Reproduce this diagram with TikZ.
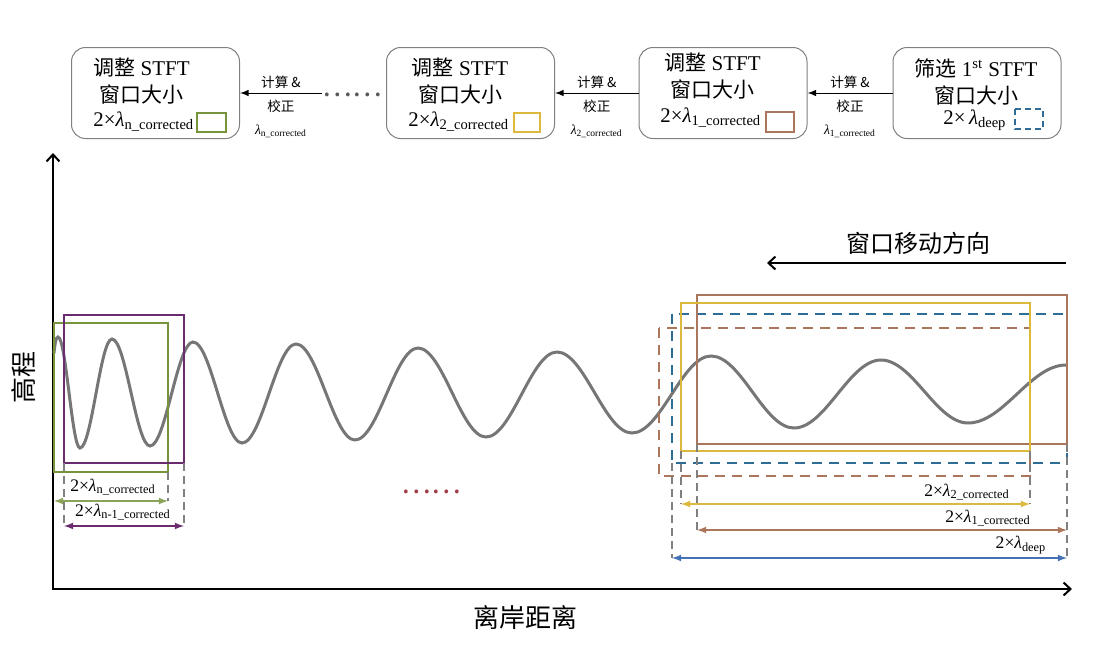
\documentclass[tikz,border=0pt]{standalone}
\usepackage{fontspec}
\setmainfont{Liberation Serif}
\newfontfamily\cjk{Noto Sans CJK SC}
\newcommand{\zh}[1]{{\cjk #1}}
\usetikzlibrary{
    arrows,
    arrows.meta,
    calc,
    positioning
}
\definecolor{wgreen}{RGB}{119,147,60}
\definecolor{wpurple}{RGB}{106,44,110}
\definecolor{wyellow}{RGB}{220,184,60}
\definecolor{wbrown}{RGB}{172,118,92}
\definecolor{wblue}{RGB}{46,110,150}
\definecolor{wdeep}{RGB}{68,114,180}
\definecolor{wred}{RGB}{160,60,70}
\definecolor{wavegray}{RGB}{118,118,118}
\tikzset{
    stftbox/.style={draw=gray, rounded corners=7pt, line width=0.5pt,
        minimum width=84pt, minimum height=45.5pt, inner sep=0pt},
    boxtext/.style={align=center, inner sep=0pt, font=\fontsize{10.5}{13.5}\selectfont},
    lamtext/.style={anchor=west, inner sep=0pt, font=\fontsize{10.4}{12}\selectfont},
    steptext/.style={inner sep=0pt, align=center, font=\fontsize{6.8}{11.5}\selectfont},
    swatch/.style={line width=1pt},
    win/.style={line width=1pt},
    guide/.style={gray, line width=0.7pt, dash pattern=on 4pt off 2.5pt},
    dim/.style={latex-latex, line width=0.6pt},
    dimtext/.style={inner sep=0pt, font=\fontsize{8.8}{10}\selectfont},
    wave/.style={wavegray, line width=1.5pt, line cap=round},
    axis/.style={line width=1pt, >={Straight Barb[length=3.5pt, width=6.5pt]}}
}
\begin{document}
\begin{tikzpicture}[x=0.5pt, y=-0.5pt]
    \useasboundingbox (0, 0) rectangle (1105, 644);
    % window steps
    \begin{scope}[shift={(977, 93)}]
        \node[stftbox] (b4) at (0, 0) {};
        \node[boxtext] (b4t) at (-1, -11.5) {\zh{筛选} 1\textsuperscript{st} STFT\\\zh{窗口大小}};
        \node[lamtext] (b4l) at (-34, 27) {2×\,\textit{λ}\textsubscript{deep}};
        \draw[swatch, wblue, dash pattern=on 3pt off 2pt] (38, 16) rectangle (66, 36);
    \end{scope}
    \begin{scope}[shift={(723, 93)}]
        \node[stftbox] (b3) at (0, 0) {};
        \node[boxtext] (b3t) at (-10.5, -16.5) {\zh{调整} STFT\\\zh{窗口大小}};
        \node[lamtext] (b3l) at (-63, 25) {2×\textit{λ}\textsubscript{1\_corrected}};
        \draw[swatch, wbrown] (43, 19) rectangle (71, 39);
    \end{scope}
    \begin{scope}[shift={(470.5, 93)}]
        \node[stftbox] (b2) at (0, 0) {};
        \node[boxtext] (b2t) at (-10.5, -11.5) {\zh{调整} STFT\\\zh{窗口大小}};
        \node[lamtext] (b2l) at (-62.5, 29) {2×\textit{λ}\textsubscript{2\_corrected}};
        \draw[swatch, wyellow] (43.5, 20) rectangle (69.5, 39);
    \end{scope}
    \begin{scope}[shift={(155.5, 93)}]
        \node[stftbox] (b1) at (0, 0) {};
        \node[boxtext] (b1t) at (-14, -11.5) {\zh{调整} STFT\\\zh{窗口大小}};
        \node[lamtext] (b1l) at (-62.5, 29) {2×\textit{λ}\textsubscript{n\_corrected}};
        \draw[swatch, wgreen] (41.5, 20) rectangle (70.5, 39);
    \end{scope}
    \node[gray!70!black, inner sep=0pt, font=\fontsize{14}{14}\selectfont] (gap) at (352, 95) {\zh{……}};
    \draw[-latex, line width=0.5pt]
    (b4) -- (b3)
        node[steptext, midway, above=2pt] (s3a) {\zh{计算 \&}}
        node[steptext, midway, below=3pt] (s3b) {\zh{校正}\\\textit{λ}\textsubscript{1\_corrected}};
    \draw[-latex, line width=0.5pt]
    (b3) -- (b2)
        node[steptext, midway, above=2pt] (s2a) {\zh{计算 \&}}
        node[steptext, midway, below=3pt] (s2b) {\zh{校正}\\\textit{λ}\textsubscript{2\_corrected}};
    \draw[-latex, line width=0.5pt]
    (gap.west |- b1.east) -- (b1.east)
        node[steptext, midway, above=2pt] (s1a) {\zh{计算 \&}}
        node[steptext, midway, below=3pt] (s1b) {\zh{校正}\\\textit{λ}\textsubscript{n\_corrected}};
    % axes
    \coordinate (o) at (53, 589);
    \coordinate (ytop) at (53, 153);
    \coordinate (xend) at (1072, 589);
    \draw[axis, <->] (ytop) -- (o) -- (xend);
    \node[font=\fontsize{13}{13}\selectfont] (xlab) at (525, 618) {\zh{离岸距离}};
    \node[rotate=90, font=\fontsize{13}{13}\selectfont] (ylab) at (24, 377) {\zh{高程}};
    % moving direction
    \coordinate (mvs) at (1066, 263);
    \coordinate (mve) at (767, 263);
    \draw[axis, ->] (mvs) -- (mve);
    \node[font=\fontsize{12}{12}\selectfont] (mvl) at (918, 243) {\zh{窗口移动方向}};
    % wave
    \draw[wave] (54, 353) .. controls (55, 343) and (56, 337) .. (58, 337)
    \foreach \x/\y [remember=\x as \lx (initially 58), remember=\y as \ly (initially 337)] in
        {80/448, 112/339, 150/446, 193/342, 242/443, 296/344, 355/440, 418/348,
         486/437, 557/352, 632/433, 711/356, 794/428, 881/360, 968/423, 1066/365}
    { .. controls ({\lx+0.364*(\x-\lx)}, \ly) and ({\x-0.364*(\x-\lx)}, \y) .. (\x, \y)};
    % windows near shore
    \draw[win, wgreen] (54, 323) rectangle (168, 472);
    \draw[win, wpurple] (64, 315) rectangle (184, 463);
    \coordinate (gl) at (54, 501);
    \coordinate (gr) at (168, 501);
    \coordinate (pl) at (64, 526);
    \coordinate (pr) at (184, 526);
    \draw[guide] (64, 463) -- (pl) (168, 472) -- (gr) (184, 463) -- (pr);
    \draw[dim, wgreen!85!white] (gl) -- (gr);
    \draw[dim, wpurple] (pl) -- (pr);
    \node[dimtext] (gn) at (113, 487) {2×\textit{λ}\textsubscript{n\_corrected}};
    \node[dimtext] (pn) at (123, 512) {2×\textit{λ}\textsubscript{n-1\_corrected}};
    \node[wred, inner sep=0pt, font=\fontsize{14}{14}\selectfont] (mid) at (431, 492) {\zh{……}};
    % windows offshore
    \draw[win, wbrown, dash pattern=on 5pt off 3.5pt] (659, 328) rectangle (1030, 476);
    \draw[win, wblue, dash pattern=on 5pt off 3.5pt] (672, 314) rectangle (1067, 463);
    \draw[win, wbrown] (697, 295) rectangle (1067, 444);
    \draw[win, wyellow] (681, 303) rectangle (1030, 451);
    \coordinate (yl) at (681, 504);
    \coordinate (yr) at (1030, 504);
    \coordinate (bl) at (697, 530);
    \coordinate (br) at (1067, 530);
    \coordinate (dl) at (672, 558);
    \coordinate (dr) at (1067, 558);
    \draw[guide] (681, 451) -- (yl) (1030, 451) -- (yr) (697, 444) -- (bl)
    (1067, 444) -- (dr) (672, 463) -- (dl);
    \draw[dim, wyellow] (yl) -- (yr);
    \draw[dim, wbrown] (bl) -- (br);
    \draw[dim, wdeep] (dl) -- (dr);
    \node[dimtext] (yn) at (967, 492) {2×\textit{λ}\textsubscript{2\_corrected}};
    \node[dimtext] (bn) at (988, 518) {2×\textit{λ}\textsubscript{1\_corrected}};
    \node[dimtext] (dn) at (1021, 545) {2×\textit{λ}\textsubscript{deep}};
\end{tikzpicture}
\end{document}
